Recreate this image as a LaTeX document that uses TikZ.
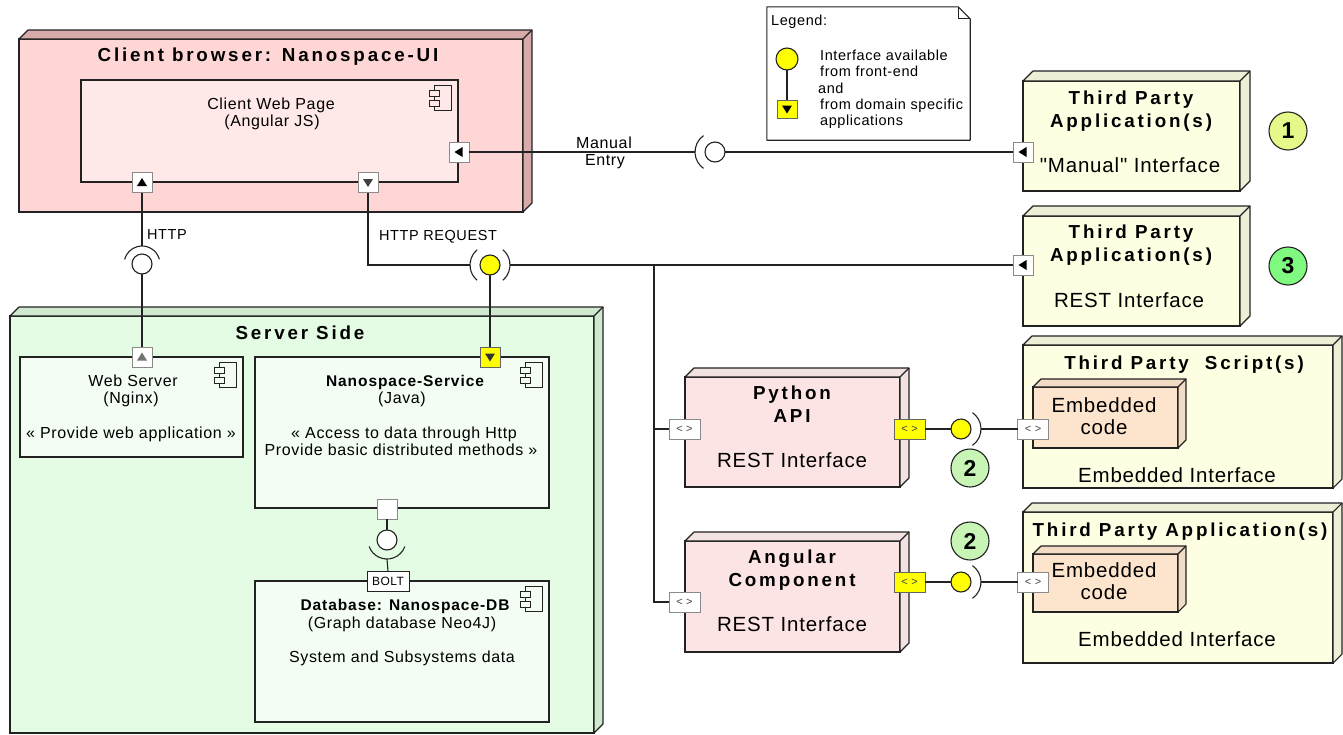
\documentclass[tikz,border=0pt]{standalone}
\usepackage{fontspec}
\setmainfont{Liberation Sans}
\newfontfamily\regf[LetterSpace=4]{Liberation Sans}
\newfontfamily\boldf[LetterSpace=15]{Liberation Sans Bold}
\newfontfamily\boldn[LetterSpace=6]{Liberation Sans Bold}
\newfontfamily\boldz{Liberation Sans Bold}

\definecolor{clientF}{HTML}{FFD6D6}
\definecolor{clientS}{HTML}{D9AAAA}
\definecolor{pageF}{HTML}{FFE8E8}
\definecolor{serverF}{HTML}{E3FCE3}
\definecolor{serverS}{HTML}{CFE9CF}
\definecolor{compF}{HTML}{F4FDF4}
\definecolor{apiF}{HTML}{FDE4E4}
\definecolor{apiS}{HTML}{F3E2E2}
\definecolor{tpF}{HTML}{FEFEE2}
\definecolor{tpS}{HTML}{EFEFD8}
\definecolor{embF}{HTML}{FDE4CD}
\definecolor{embS}{HTML}{F3DCC5}
\definecolor{yel}{HTML}{FFFF00}
\definecolor{cone}{HTML}{E5F98B}
\definecolor{ctwo}{HTML}{C8F5B6}
\definecolor{cthree}{HTML}{80F980}
\definecolor{edge}{HTML}{222222}
\definecolor{portE}{HTML}{8A8A8A}

\tikzset{
  frontbox/.style={draw=edge, line width=1.1pt, rectangle, inner sep=0pt, outer sep=0pt},
  port/.style={draw=portE, fill=white, line width=1pt, minimum width=20pt, minimum height=20pt, inner sep=0pt, outer sep=0pt},
  yport/.style={port, fill=yel, draw=edge!70},
  aport/.style={port, minimum width=31pt, minimum height=20pt, font=\regf\fontsize{11}{11}\selectfont, text=black!75},
  yaport/.style={aport, fill=yel, draw=edge!70},
  ball/.style={circle, draw=edge, line width=1.1pt, minimum size=20pt, inner sep=0pt, outer sep=0pt, fill=white},
  yball/.style={ball, fill=yel},
  numc/.style={circle, draw=edge, line width=1.1pt, minimum size=38pt, inner sep=0pt, font=\boldz\fontsize{23}{24}\selectfont},
  conn/.style={draw=edge, line width=1.1pt},
  reg/.style={inner sep=0pt, text height=11.5pt, text depth=0pt, font=\regf\fontsize{16}{18}\selectfont},
  big/.style={inner sep=0pt, text height=14.7pt, text depth=0pt, font=\regf\fontsize{20.5}{24}\selectfont},
  small/.style={inner sep=0pt, text height=10.4pt, text depth=0pt, font=\regf\fontsize{14.5}{16.5}\selectfont},
  tiny/.style={inner sep=0pt, text height=8.6pt, text depth=0pt, font=\regf\fontsize{12}{14}\selectfont},
  title/.style={inner sep=0pt, text height=13.5pt, text depth=0pt, font=\boldf\fontsize{18.8}{22}\selectfont},
  stitle/.style={inner sep=0pt, text height=11.1pt, text depth=0pt, font=\boldn\fontsize{15.5}{18}\selectfont},
}

\newcommand\faces[3]{%
  \filldraw[fill=#3, draw=edge, line width=1.1pt, line join=round]
    (#1.north west) -- ++(#2,-#2) -- ([shift={(#2,-#2)}]#1.north east)
    -- ([shift={(#2,-#2)}]#1.south east) -- (#1.south east) -- (#1.north east) -- cycle;
  \draw[edge, line width=1.1pt] (#1.north east) -- ++(#2,-#2);}

\newcommand\cicon[2]{%
  \begin{scope}[shift={(#1.north east)}]
    \filldraw[fill=#2, draw=edge, line width=1pt] (-24,5) rectangle (-7,30);
    \filldraw[fill=#2, draw=edge, line width=1pt] (-29,10) rectangle (-19,16);
    \filldraw[fill=#2, draw=edge, line width=1pt] (-29,20) rectangle (-19,26);
  \end{scope}}

\newcommand\triU[2]{\fill[#2] ([shift={(-5,3.5)}]#1.center) -- ([shift={(5,3.5)}]#1.center) -- ([shift={(0,-4.5)}]#1.center) -- cycle;}
\newcommand\triD[2]{\fill[#2] ([shift={(-5,-3.5)}]#1.center) -- ([shift={(5,-3.5)}]#1.center) -- ([shift={(0,4.5)}]#1.center) -- cycle;}
\newcommand\triL[2]{\fill[#2] ([shift={(3.5,-5)}]#1.center) -- ([shift={(3.5,5)}]#1.center) -- ([shift={(-4.5,0)}]#1.center) -- cycle;}

\begin{document}
\begin{tikzpicture}[x=1pt, y=-1pt]
\useasboundingbox (0,0) rectangle (1343,734);
\fill[white] (0,0) rectangle (1343,734);

% ---------- Client browser ----------
\node[frontbox, fill=clientF, minimum width=504pt, minimum height=173pt] (client) at (271,125.5) {};
\faces{client}{9}{clientS}
\node[title] (clientT) at (268,55) {Client browser: Nanospace-UI};
\node[frontbox, fill=pageF, minimum width=377pt, minimum height=102pt] (page) at (269.5,131) {};
\cicon{page}{pageF}
\node[reg] (pageT1) at (271,104) {Client Web Page};
\node[reg] (pageT2) at (272,121) {(Angular JS)};
\node[port] (pHttp) at (142,182.5) {}; \triU{pHttp}{black}
\node[port] (pReq) at (368,182.5) {}; \triD{pReq}{black!75}
\node[port] (pMan) at (459,152) {}; \triL{pMan}{black}

% ---------- Server side ----------
\node[frontbox, fill=serverF, minimum width=584pt, minimum height=417pt] (server) at (302,524.5) {};
\faces{server}{9}{serverS}
\node[title] (serverT) at (300,333) {Server Side};

\node[frontbox, fill=compF, minimum width=223pt, minimum height=100pt] (web) at (131.5,407) {};
\cicon{web}{compF}
\node[reg] (webT1) at (133,381) {Web Server};
\node[reg] (webT2) at (131,398) {(Nginx)};
\node[reg] (webT3) at (131,433) {« Provide web application »};
\node[port] (pWeb) at (142,357) {}; \triU{pWeb}{black!55}

\node[frontbox, fill=compF, minimum width=294pt, minimum height=151pt] (svc) at (402,432.5) {};
\cicon{svc}{compF}
\node[stitle] (svcT1) at (405,381) {Nanospace-Service};
\node[reg] (svcT2) at (402,398) {(Java)};
\node[reg] (svcT3) at (404,433) {« Access to data through Http};
\node[reg] (svcT4) at (401,450) {Provide basic distributed methods »};
\node[yport] (pSvc) at (490,357) {}; \triD{pSvc}{black!80}
\node[port] (pSvcB) at (387,509) {};

\node[frontbox, fill=compF, minimum width=294pt, minimum height=141pt] (db) at (402,651.5) {};
\cicon{db}{compF}
\node[stitle] (dbT1) at (405,605) {Database: Nanospace-DB};
\node[reg] (dbT2) at (402,623) {(Graph database Neo4J)};
\node[reg] (dbT3) at (402,657) {System and Subsystems data};
\node[port, minimum width=42pt, minimum height=20pt, tiny, inner sep=0pt, draw=edge] (bolt) at (388,581) {BOLT};

% ---------- Python API / Angular ----------
\node[frontbox, fill=apiF, minimum width=215pt, minimum height=110pt] (py) at (792.5,432) {};
\faces{py}{9}{apiS}
\node[title] (pyT1) at (792,393) {Python};
\node[title] (pyT2) at (792,416) {API};
\node[big] (pyT3) at (792,460) {REST Interface};
\node[aport] (pyL) at (684.5,429) {< >};
\node[yaport] (pyR) at (909.5,429) {< >};

\node[frontbox, fill=apiF, minimum width=215pt, minimum height=111pt] (ang) at (792.5,596.5) {};
\faces{ang}{9}{apiS}
\node[title] (angT1) at (792,557) {Angular};
\node[title] (angT2) at (792,580) {Component};
\node[big] (angT3) at (792,624) {REST Interface};
\node[aport] (angL) at (684.5,602) {< >};
\node[yaport] (angR) at (909.5,582) {< >};

% ---------- Third parties ----------
\node[frontbox, fill=tpF, minimum width=217pt, minimum height=110pt] (tp1) at (1131.5,136) {};
\faces{tp1}{10}{tpS}
\node[title] (tp1T1) at (1131,98) {Third Party};
\node[title] (tp1T2) at (1131,121) {Application(s)};
\node[big] (tp1T3) at (1130,165) {"Manual" Interface};
\node[port] (pTP1) at (1023,152) {}; \triL{pTP1}{black}

\node[frontbox, fill=tpF, minimum width=217pt, minimum height=110pt] (tp3) at (1131.5,271) {};
\faces{tp3}{10}{tpS}
\node[title] (tp3T1) at (1131,232) {Third Party};
\node[title] (tp3T2) at (1131,255) {Application(s)};
\node[big] (tp3T3) at (1129,300) {REST Interface};
\node[port] (pTP3) at (1023,265) {}; \triL{pTP3}{black}

\node[frontbox, fill=tpF, minimum width=310pt, minimum height=143pt] (scr) at (1178,416.5) {};
\faces{scr}{9}{tpS}
\node[title] (scrT1) at (1184,363) {Third Party~ Script(s)};
\node[frontbox, fill=embF, minimum width=145pt, minimum height=61pt] (emb1) at (1105.5,417.5) {};
\faces{emb1}{8}{embS}
\node[big] (emb1T1) at (1104,405) {Embedded};
\node[big] (emb1T2) at (1104,427) {code};
\node[big] (scrT2) at (1177,475) {Embedded Interface};
\node[aport] (pScr) at (1033,429) {< >};

\node[frontbox, fill=tpF, minimum width=310pt, minimum height=151pt] (app2) at (1178,587.5) {};
\faces{app2}{9}{tpS}
\node[title] (app2T1) at (1180,530) {Third Party Application(s)};
\node[frontbox, fill=embF, minimum width=145pt, minimum height=58pt] (emb2) at (1105.5,583) {};
\faces{emb2}{8}{embS}
\node[big] (emb2T1) at (1104,570) {Embedded};
\node[big] (emb2T2) at (1104,592) {code};
\node[big] (app2T2) at (1177,639) {Embedded Interface};
\node[aport] (pApp2) at (1033,582) {< >};

% ---------- numbered circles ----------
\node[numc, fill=cone] (n1) at (1288,131) {1};
\node[numc, fill=cthree] (n3) at (1288,266) {3};
\node[numc, fill=ctwo] (n2a) at (970,468) {2};
\node[numc, fill=ctwo] (n2b) at (970,541) {2};

% ---------- Legend ----------
\node[inner sep=0pt, minimum width=203pt, minimum height=133pt] (legend) at (868.5,73.5) {};
\filldraw[fill=white, draw=edge, line width=1.1pt, line join=round]
  (legend.north west) -- ([xshift=-12pt]legend.north east) -- ([yshift=-12pt]legend.north east)
  -- (legend.south east) -- (legend.south west) -- cycle;
\draw[edge, line width=1pt] ([xshift=-12pt]legend.north east) -- ([xshift=-12pt,yshift=-12pt]legend.north east) -- ([yshift=-12pt]legend.north east);
\node[small, anchor=west] (legT) at (771,20) {Legend:};
\node[yball, minimum size=22pt] (legBall) at (787,59) {};
\node[yport, minimum width=20pt, minimum height=18pt] (legPort) at (787,109) {}; \triD{legPort}{black}
\draw[conn] (legBall.south) -- (legPort.north);
\node[small, anchor=west] (legL1) at (820,55) {Interface available};
\node[small, anchor=west] (legL2) at (820,71) {from front-end};
\node[small, anchor=west] (legL3) at (818,88) {and};
\node[small, anchor=west] (legL4) at (820,104) {from domain specific};
\node[small, anchor=west] (legL5) at (820,120) {applications};

% ---------- sockets / balls ----------
\node[ball] (hb) at (142,264) {};
\coordinate (hbTop) at (142,246);
\draw[conn] (hb.center) ++(15:18pt) arc[start angle=15, end angle=165, radius=18pt];

\node[yball] (rb) at (490,265) {};
\coordinate (reqL) at (470,265);
\coordinate (reqR) at (510,265);
\draw[conn] (rb.center) ++(130:20pt) arc[start angle=130, end angle=230, radius=20pt];
\draw[conn] (rb.center) ++(-50:20pt) arc[start angle=-50, end angle=50, radius=20pt];

\node[ball] (mb) at (715,152) {};
\coordinate (manL) at (695,152);
\draw[conn] (mb.center) ++(125:20pt) arc[start angle=125, end angle=235, radius=20pt];

\node[yball] (pb) at (961,429) {};
\coordinate (pyArc) at (981,429);
\draw[conn] (pb.center) ++(-55:20pt) arc[start angle=-55, end angle=55, radius=20pt];

\node[yball] (ab) at (961,582) {};
\coordinate (angArc) at (981,582);
\draw[conn] (ab.center) ++(-55:20pt) arc[start angle=-55, end angle=55, radius=20pt];

\node[ball] (bb) at (387,540) {};
\coordinate (bbBot) at (387,559);
\draw[conn] (bb.center) ++(200:19pt) arc[start angle=200, end angle=340, radius=19pt];

% ---------- connectors ----------
\draw[conn] (pHttp.south) -- (hbTop);
\draw[conn] (hb.south) -- (pWeb.north);
\node[small, anchor=west] (httpL) at (147,234) {HTTP};

\draw[conn] (pReq.south) |- (reqL);
\draw[conn] (rb.south) -- (pSvc.north);
\draw[conn] (reqR) -- (pTP3.west);
\node[small] (reqLbl) at (438,235) {HTTP REQUEST};

\coordinate (br) at (654,265);
\draw[conn] (br) |- (angL.west);
\draw[conn] (br |- pyL.west) -- (pyL.west);

\draw[conn] (pMan.east) -- (manL);
\draw[conn] (mb.east) -- (pTP1.west);
\node[reg] (manT1) at (604,143) {Manual};
\node[reg] (manT2) at (605,160) {Entry};

\draw[conn] (pyR.east) -- (pb.west);
\draw[conn] (pyArc) -- (pScr.west);
\draw[conn] (angR.east) -- (ab.west);
\draw[conn] (angArc) -- (pApp2.west);

\draw[conn] (pSvcB.south) -- (bb.north);
\draw[conn] (bbBot) -- (bolt.north);
\end{tikzpicture}
\end{document}
